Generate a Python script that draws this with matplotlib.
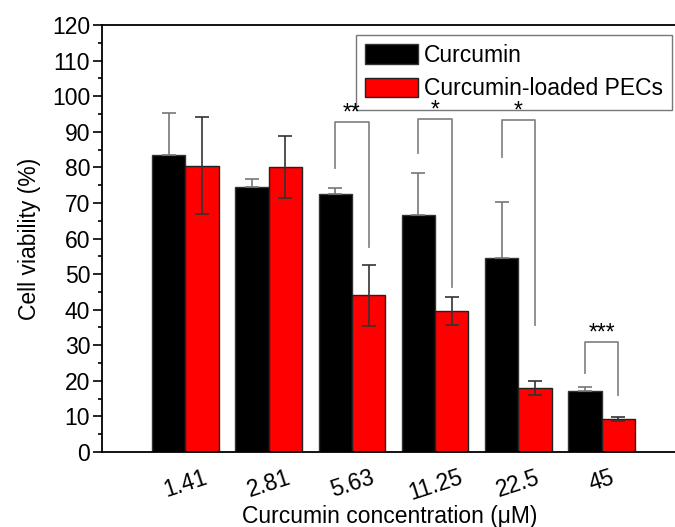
import numpy as np
import matplotlib
matplotlib.use('Agg')
import matplotlib.pyplot as plt
from matplotlib.ticker import MultipleLocator

plt.rcParams['font.family'] = ['Liberation Sans', 'DejaVu Sans']

concentrations = ['1.41', '2.81', '5.63', '11.25', '22.5', '45']
curcumin = [83.4, 74.4, 72.4, 66.5, 54.4, 17.2]
curcumin_err = [12.0, 2.4, 1.9, 11.9, 15.8, 1.2]
pecs = [80.5, 80.2, 44.0, 39.6, 18.0, 9.3]
pecs_err = [13.7, 8.7, 8.6, 3.9, 2.0, 0.6]

# significance brackets: group index, left foot, top, right foot, label
sig_groups = [2, 3, 4, 5]
sig_left = [79.9, 83.9, 82.9, 22.2]
sig_top = [92.8, 93.7, 93.3, 31.0]
sig_right = [57.5, 46.5, 35.6, 15.9]
sig_labels = ['**', '*', '*', '***']

fs = 16.5
fig = plt.figure(figsize=(6.75, 5.27), dpi=100)
ax = fig.add_axes([102/675, 1-452/527, 583/675, 427/527])

x = np.arange(len(concentrations))
w = 0.4
ax.bar(x - w/2, curcumin, w, color='black', edgecolor='#333333', linewidth=1,
       label='Curcumin', zorder=2)
ax.bar(x + w/2, pecs, w, color='#ff0000', edgecolor='#222222', linewidth=1,
       label='Curcumin-loaded PECs', zorder=2)
# lower half of the black bars' error bars is hidden in the bar
ax.errorbar(x - w/2, curcumin, yerr=[np.zeros(len(x)), curcumin_err], fmt='none',
            ecolor='#777777', elinewidth=1.2, capsize=5, capthick=1.2, zorder=3)
ax.errorbar(x + w/2, pecs, yerr=pecs_err, fmt='none', ecolor='#333333',
            elinewidth=1.2, capsize=5, capthick=1.2, zorder=3)

for g, yl, yt, yr, lab in zip(sig_groups, sig_left, sig_top, sig_right, sig_labels):
    xl, xr = g - w/2, g + w/2
    ax.plot([xl, xl, xr, xr], [yl, yt, yt, yr], color='#888888', lw=1.3, zorder=1)
    ax.text(g, yt + 0.6, lab, ha='center', va='baseline', fontsize=fs, zorder=6)

ax.set_xlim(-1, 6)
ax.set_ylim(0, 120)
ax.yaxis.set_major_locator(MultipleLocator(10))
ax.yaxis.set_minor_locator(MultipleLocator(5))
ax.tick_params(axis='y', which='major', direction='out', length=6.5, width=1.2,
               labelsize=fs, pad=2)
ax.tick_params(axis='y', which='minor', direction='out', length=3, width=1.2)
ax.set_xticks(x)
ax.set_xticklabels(concentrations, rotation=18, fontsize=fs)
ax.tick_params(axis='x', length=0, pad=10)
for s in ax.spines.values():
    s.set_linewidth(1.3)

ax.set_ylabel('Cell viability (%)', fontsize=fs, labelpad=8)
ax.set_xlabel('Curcumin concentration (\u03bcM)', fontsize=fs)
ax.xaxis.set_label_coords(0.494, -0.124)

ax.legend(loc='upper right', bbox_to_anchor=(672/675, 1-35/527),
          bbox_transform=fig.transFigure, fontsize=fs, fancybox=False,
          edgecolor='#777777', framealpha=1, handlelength=2.3, handleheight=0.95,
          borderaxespad=0, borderpad=0.4, labelspacing=0.45, handletextpad=0.25)

fig.savefig('out.png', dpi=100)
